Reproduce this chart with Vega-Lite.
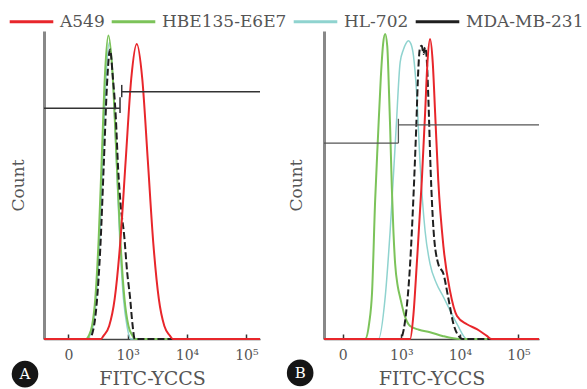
{
  "$schema": "https://vega.github.io/schema/vega-lite/v6.json",
  "padding": {"left": 8, "top": -2, "right": 0, "bottom": 0},
  "spacing": 22,
  "datasets": {
    "curves": [
      {"panel":"A","series":"HL-702","x":-0.41,"y":0},{"panel":"A","series":"HL-702","x":0.32,"y":0},{"panel":"A","series":"HL-702","x":0.36,"y":1},{"panel":"A","series":"HL-702","x":0.415,"y":4},{"panel":"A","series":"HL-702","x":0.47,"y":13},{"panel":"A","series":"HL-702","x":0.526,"y":31},{"panel":"A","series":"HL-702","x":0.58,"y":58},{"panel":"A","series":"HL-702","x":0.636,"y":85},{"panel":"A","series":"HL-702","x":0.691,"y":96.3},{"panel":"A","series":"HL-702","x":0.75,"y":85},{"panel":"A","series":"HL-702","x":0.81,"y":58},{"panel":"A","series":"HL-702","x":0.87,"y":31},{"panel":"A","series":"HL-702","x":0.93,"y":13},{"panel":"A","series":"HL-702","x":0.99,"y":4},{"panel":"A","series":"HL-702","x":1.05,"y":0},{"panel":"A","series":"HL-702","x":3.23,"y":0},
      {"panel":"A","series":"HBE135-E6E7","x":-0.41,"y":0},{"panel":"A","series":"HBE135-E6E7","x":0.3,"y":0},{"panel":"A","series":"HBE135-E6E7","x":0.345,"y":1.1},{"panel":"A","series":"HBE135-E6E7","x":0.4,"y":4.3},{"panel":"A","series":"HBE135-E6E7","x":0.455,"y":13.3},{"panel":"A","series":"HBE135-E6E7","x":0.51,"y":32},{"panel":"A","series":"HBE135-E6E7","x":0.565,"y":59.7},{"panel":"A","series":"HBE135-E6E7","x":0.62,"y":86.9},{"panel":"A","series":"HBE135-E6E7","x":0.675,"y":98.5},{"panel":"A","series":"HBE135-E6E7","x":0.7425,"y":86.9},{"panel":"A","series":"HBE135-E6E7","x":0.81,"y":59.7},{"panel":"A","series":"HBE135-E6E7","x":0.8775,"y":32},{"panel":"A","series":"HBE135-E6E7","x":0.945,"y":13.3},{"panel":"A","series":"HBE135-E6E7","x":1.0125,"y":4.3},{"panel":"A","series":"HBE135-E6E7","x":1.08,"y":1.1},{"panel":"A","series":"HBE135-E6E7","x":1.12,"y":0},{"panel":"A","series":"HBE135-E6E7","x":3.23,"y":0},
      {"panel":"A","series":"MDA-MB-231","x":-0.41,"y":0},{"panel":"A","series":"MDA-MB-231","x":0.35,"y":0},{"panel":"A","series":"MDA-MB-231","x":0.42,"y":3},{"panel":"A","series":"MDA-MB-231","x":0.48,"y":12},{"panel":"A","series":"MDA-MB-231","x":0.54,"y":30},{"panel":"A","series":"MDA-MB-231","x":0.6,"y":58},{"panel":"A","series":"MDA-MB-231","x":0.65,"y":82},{"panel":"A","series":"MDA-MB-231","x":0.703,"y":94},{"panel":"A","series":"MDA-MB-231","x":0.75,"y":85},{"panel":"A","series":"MDA-MB-231","x":0.8,"y":72},{"panel":"A","series":"MDA-MB-231","x":0.84,"y":55},{"panel":"A","series":"MDA-MB-231","x":0.88,"y":44},{"panel":"A","series":"MDA-MB-231","x":0.944,"y":33},{"panel":"A","series":"MDA-MB-231","x":0.99,"y":22},{"panel":"A","series":"MDA-MB-231","x":1.04,"y":13.5},{"panel":"A","series":"MDA-MB-231","x":1.08,"y":5},{"panel":"A","series":"MDA-MB-231","x":1.12,"y":0},{"panel":"A","series":"MDA-MB-231","x":3.23,"y":0},
      {"panel":"A","series":"A549","x":-0.41,"y":0},{"panel":"A","series":"A549","x":0.55,"y":0},{"panel":"A","series":"A549","x":0.595,"y":1.1},{"panel":"A","series":"A549","x":0.688,"y":4.2},{"panel":"A","series":"A549","x":0.781,"y":13},{"panel":"A","series":"A549","x":0.874,"y":31.1},{"panel":"A","series":"A549","x":0.967,"y":58.1},{"panel":"A","series":"A549","x":1.06,"y":84.5},{"panel":"A","series":"A549","x":1.153,"y":95.8},{"panel":"A","series":"A549","x":1.246,"y":84.5},{"panel":"A","series":"A549","x":1.339,"y":58.1},{"panel":"A","series":"A549","x":1.432,"y":31.1},{"panel":"A","series":"A549","x":1.525,"y":13},{"panel":"A","series":"A549","x":1.618,"y":4.2},{"panel":"A","series":"A549","x":1.711,"y":1.1},{"panel":"A","series":"A549","x":1.76,"y":0},{"panel":"A","series":"A549","x":3.23,"y":0},
      {"panel":"B","series":"HL-702","x":-0.32,"y":0},{"panel":"B","series":"HL-702","x":0.61,"y":0},{"panel":"B","series":"HL-702","x":0.724,"y":13.5},{"panel":"B","series":"HL-702","x":0.81,"y":35.3},{"panel":"B","series":"HL-702","x":0.91,"y":68},{"panel":"B","series":"HL-702","x":0.98,"y":89.8},{"panel":"B","series":"HL-702","x":1.036,"y":94},{"panel":"B","series":"HL-702","x":1.08,"y":96},{"panel":"B","series":"HL-702","x":1.12,"y":96.8},{"panel":"B","series":"HL-702","x":1.16,"y":96},{"panel":"B","series":"HL-702","x":1.207,"y":92},{"panel":"B","series":"HL-702","x":1.264,"y":79},{"panel":"B","series":"HL-702","x":1.32,"y":57},{"panel":"B","series":"HL-702","x":1.406,"y":35},{"panel":"B","series":"HL-702","x":1.49,"y":24.4},{"panel":"B","series":"HL-702","x":1.6,"y":18},{"panel":"B","series":"HL-702","x":1.72,"y":13.6},{"panel":"B","series":"HL-702","x":1.95,"y":4.9},{"panel":"B","series":"HL-702","x":2.12,"y":0},{"panel":"B","series":"HL-702","x":3.35,"y":0},
      {"panel":"B","series":"HBE135-E6E7","x":-0.32,"y":0},{"panel":"B","series":"HBE135-E6E7","x":0.382,"y":0},{"panel":"B","series":"HBE135-E6E7","x":0.45,"y":5},{"panel":"B","series":"HBE135-E6E7","x":0.5,"y":15},{"panel":"B","series":"HBE135-E6E7","x":0.553,"y":45},{"panel":"B","series":"HBE135-E6E7","x":0.6,"y":65},{"panel":"B","series":"HBE135-E6E7","x":0.65,"y":85},{"panel":"B","series":"HBE135-E6E7","x":0.69,"y":96},{"panel":"B","series":"HBE135-E6E7","x":0.724,"y":99},{"panel":"B","series":"HBE135-E6E7","x":0.76,"y":95},{"panel":"B","series":"HBE135-E6E7","x":0.79,"y":80},{"panel":"B","series":"HBE135-E6E7","x":0.81,"y":68},{"panel":"B","series":"HBE135-E6E7","x":0.838,"y":49},{"panel":"B","series":"HBE135-E6E7","x":0.865,"y":35},{"panel":"B","series":"HBE135-E6E7","x":0.894,"y":24.5},{"panel":"B","series":"HBE135-E6E7","x":0.94,"y":17},{"panel":"B","series":"HBE135-E6E7","x":0.98,"y":13.5},{"panel":"B","series":"HBE135-E6E7","x":1.05,"y":8},{"panel":"B","series":"HBE135-E6E7","x":1.15,"y":4.2},{"panel":"B","series":"HBE135-E6E7","x":1.3,"y":3},{"panel":"B","series":"HBE135-E6E7","x":1.49,"y":2.2},{"panel":"B","series":"HBE135-E6E7","x":1.7,"y":1},{"panel":"B","series":"HBE135-E6E7","x":2.0,"y":0},{"panel":"B","series":"HBE135-E6E7","x":3.35,"y":0},
      {"panel":"B","series":"MDA-MB-231","x":-0.32,"y":0},{"panel":"B","series":"MDA-MB-231","x":0.98,"y":0},{"panel":"B","series":"MDA-MB-231","x":1.065,"y":6},{"panel":"B","series":"MDA-MB-231","x":1.15,"y":24.4},{"panel":"B","series":"MDA-MB-231","x":1.207,"y":46.2},{"panel":"B","series":"MDA-MB-231","x":1.253,"y":68},{"panel":"B","series":"MDA-MB-231","x":1.29,"y":87.6},{"panel":"B","series":"MDA-MB-231","x":1.32,"y":94.7},{"panel":"B","series":"MDA-MB-231","x":1.35,"y":95.2},{"panel":"B","series":"MDA-MB-231","x":1.377,"y":92.5},{"panel":"B","series":"MDA-MB-231","x":1.406,"y":94.7},{"panel":"B","series":"MDA-MB-231","x":1.43,"y":92},{"panel":"B","series":"MDA-MB-231","x":1.46,"y":78.9},{"panel":"B","series":"MDA-MB-231","x":1.5,"y":54.9},{"panel":"B","series":"MDA-MB-231","x":1.55,"y":35.3},{"panel":"B","series":"MDA-MB-231","x":1.63,"y":24.4},{"panel":"B","series":"MDA-MB-231","x":1.72,"y":21.1},{"panel":"B","series":"MDA-MB-231","x":1.8,"y":13.5},{"panel":"B","series":"MDA-MB-231","x":1.89,"y":4.9},{"panel":"B","series":"MDA-MB-231","x":2.0,"y":0.5},{"panel":"B","series":"MDA-MB-231","x":2.05,"y":0},{"panel":"B","series":"MDA-MB-231","x":3.35,"y":0},
      {"panel":"B","series":"A549","x":-0.32,"y":0},{"panel":"B","series":"A549","x":1.15,"y":0},{"panel":"B","series":"A549","x":1.207,"y":8},{"panel":"B","series":"A549","x":1.264,"y":24.4},{"panel":"B","series":"A549","x":1.35,"y":51.6},{"panel":"B","series":"A549","x":1.406,"y":73.4},{"panel":"B","series":"A549","x":1.446,"y":89.8},{"panel":"B","series":"A549","x":1.49,"y":97.4},{"panel":"B","series":"A549","x":1.536,"y":89.8},{"panel":"B","series":"A549","x":1.577,"y":73.4},{"panel":"B","series":"A549","x":1.63,"y":51.6},{"panel":"B","series":"A549","x":1.72,"y":29.8},{"panel":"B","series":"A549","x":1.83,"y":15.7},{"panel":"B","series":"A549","x":1.95,"y":7.5},{"panel":"B","series":"A549","x":2.12,"y":4.8},{"panel":"B","series":"A549","x":2.29,"y":3.2},{"panel":"B","series":"A549","x":2.46,"y":1},{"panel":"B","series":"A549","x":2.54,"y":0},{"panel":"B","series":"A549","x":3.35,"y":0}
    ],
    "gates": [
      {"panel":"A","x":-0.41,"x2":0.871,"y":74.9,"y2":74.9},
      {"panel":"A","x":0.871,"x2":0.871,"y":73.4,"y2":78.5},
      {"panel":"A","x":0.9,"x2":3.23,"y":80.3,"y2":80.3},
      {"panel":"A","x":0.9,"x2":0.9,"y":78.5,"y2":82.5},
      {"panel":"B","x":-0.32,"x2":0.95,"y":63.6,"y2":63.6},
      {"panel":"B","x":0.95,"x2":0.95,"y":63.6,"y2":71.5},
      {"panel":"B","x":0.95,"x2":3.35,"y":69.5,"y2":69.5}
    ],
    "badges": [
      {"panel":"A","x":-0.73,"y":-11.4,"label":"A"},
      {"panel":"B","x":-0.727,"y":-11.0,"label":"B"}
    ]
  },
  "config": {
    "view": {"stroke": null},
    "axis": {
      "grid": false,
      "titleFont": "DejaVu Serif",
      "labelFont": "DejaVu Serif",
      "titleFontWeight": "normal",
      "titleColor": "#555555",
      "labelColor": "#555555"
    },
    "legend": {
      "orient": "none",
      "legendX": -36,
      "legendY": -33,
      "direction": "horizontal",
      "symbolType": "stroke",
      "symbolSize": 1900,
      "symbolStrokeWidth": 3,
      "labelFont": "DejaVu Serif",
      "labelFontSize": 17,
      "labelColor": "#555555",
      "labelOffset": 5,
      "columnPadding": 0,
      "padding": 0
    }
  },
  "hconcat": [
    {
      "width": 216,
      "height": 308,
      "encoding": {
        "x": {"field": "x", "type": "quantitative",
              "scale": {"domain": [-0.41, 3.23], "nice": false, "zero": false},
              "axis": {"values": [0, 1, 2, 3], "labelExpr": "datum.value == 0 ? '0' : datum.value == 1 ? '10³' : datum.value == 2 ? '10⁴' : '10⁵'",
                       "title": "FITC-YCCS", "titleFontSize": 19, "titlePadding": 7, "labelFontSize": 14,
                       "tickSize": -5, "tickColor": "#333333", "tickWidth": 1.5, "labelPadding": 14,
                       "domainColor": "#444444", "domainWidth": 1.5, "labelFlush": false}},
        "y": {"field": "y", "type": "quantitative",
              "scale": {"domain": [0, 100], "nice": false, "zero": false},
              "axis": {"title": "Count", "titleFontSize": 17, "ticks": false, "labels": false, "titlePadding": 17,
                       "domainColor": "#888888", "domainWidth": 3}}
      },
      "layer": [
        {"data": {"name": "curves"}, "transform": [{"filter": "datum.panel == 'A' && datum.series == 'HL-702'"}],
         "mark": {"type": "line", "strokeWidth": 1.5, "interpolate": "monotone"},
         "encoding": {"color": {"field": "series", "type": "nominal", "scale": {"domain": ["A549", "HBE135-E6E7", "HL-702", "MDA-MB-231"], "range": ["#e8262b", "#7cc35a", "#8fd3cf", "#1f1f1f"]}, "legend": {"title": null}}}},
        {"data": {"name": "curves"}, "transform": [{"filter": "datum.panel == 'A' && datum.series == 'HBE135-E6E7'"}],
         "mark": {"type": "line", "strokeWidth": 2, "interpolate": "monotone"},
         "encoding": {"color": {"field": "series", "type": "nominal", "legend": {"title": null}}}},
        {"data": {"name": "curves"}, "transform": [{"filter": "datum.panel == 'A' && datum.series == 'MDA-MB-231'"}],
         "mark": {"type": "line", "strokeWidth": 2, "interpolate": "monotone", "strokeDash": [7, 3]},
         "encoding": {"color": {"field": "series", "type": "nominal", "legend": {"title": null}}}},
        {"data": {"name": "curves"}, "transform": [{"filter": "datum.panel == 'A' && datum.series == 'A549'"}],
         "mark": {"type": "line", "strokeWidth": 2, "interpolate": "monotone"},
         "encoding": {"color": {"field": "series", "type": "nominal", "legend": {"title": null}}}},
        {"data": {"name": "gates"}, "transform": [{"filter": "datum.panel == 'A'"}],
         "mark": {"type": "rule", "color": "#333333", "strokeWidth": 1.5},
         "encoding": {"x2": {"field": "x2"}, "y2": {"field": "y2"}}},
        {"data": {"name": "badges"}, "transform": [{"filter": "datum.panel == 'A'"}],
         "mark": {"type": "point", "shape": "circle", "filled": true, "size": 707, "color": "#151515", "opacity": 1},
         "encoding": {}},
        {"data": {"name": "badges"}, "transform": [{"filter": "datum.panel == 'A'"}],
         "mark": {"type": "text", "color": "#ffffff", "font": "DejaVu Serif", "fontSize": 15, "baseline": "middle", "align": "center"},
         "encoding": {"text": {"field": "label"}}}
      ]
    },
    {
      "width": 215,
      "height": 308,
      "encoding": {
        "x": {"field": "x", "type": "quantitative",
              "scale": {"domain": [-0.32, 3.35], "nice": false, "zero": false},
              "axis": {"values": [0, 1, 2, 3], "labelExpr": "datum.value == 0 ? '0' : datum.value == 1 ? '10³' : datum.value == 2 ? '10⁴' : '10⁵'",
                       "title": "FITC-YCCS", "titleFontSize": 19, "titlePadding": 7, "labelFontSize": 14,
                       "tickSize": -5, "tickColor": "#333333", "tickWidth": 1.5, "labelPadding": 14,
                       "domainColor": "#444444", "domainWidth": 1.5, "labelFlush": false}},
        "y": {"field": "y", "type": "quantitative",
              "scale": {"domain": [0, 100], "nice": false, "zero": false},
              "axis": {"title": "Count", "titleFontSize": 17, "ticks": false, "labels": false, "titlePadding": 19,
                       "domainColor": "#888888", "domainWidth": 3}}
      },
      "layer": [
        {"data": {"name": "curves"}, "transform": [{"filter": "datum.panel == 'B' && datum.series == 'HL-702'"}],
         "mark": {"type": "line", "strokeWidth": 1.5, "interpolate": "monotone"},
         "encoding": {"color": {"field": "series", "type": "nominal", "legend": {"title": null}}}},
        {"data": {"name": "curves"}, "transform": [{"filter": "datum.panel == 'B' && datum.series == 'HBE135-E6E7'"}],
         "mark": {"type": "line", "strokeWidth": 2, "interpolate": "monotone"},
         "encoding": {"color": {"field": "series", "type": "nominal", "legend": {"title": null}}}},
        {"data": {"name": "curves"}, "transform": [{"filter": "datum.panel == 'B' && datum.series == 'MDA-MB-231'"}],
         "mark": {"type": "line", "strokeWidth": 2, "interpolate": "monotone", "strokeDash": [7, 3]},
         "encoding": {"color": {"field": "series", "type": "nominal", "legend": {"title": null}}}},
        {"data": {"name": "curves"}, "transform": [{"filter": "datum.panel == 'B' && datum.series == 'A549'"}],
         "mark": {"type": "line", "strokeWidth": 2, "interpolate": "monotone"},
         "encoding": {"color": {"field": "series", "type": "nominal", "legend": {"title": null}}}},
        {"data": {"name": "gates"}, "transform": [{"filter": "datum.panel == 'B'"}],
         "mark": {"type": "rule", "color": "#555555", "strokeWidth": 1.3},
         "encoding": {"x2": {"field": "x2"}, "y2": {"field": "y2"}}},
        {"data": {"name": "badges"}, "transform": [{"filter": "datum.panel == 'B'"}],
         "mark": {"type": "point", "shape": "circle", "filled": true, "size": 707, "color": "#151515", "opacity": 1},
         "encoding": {}},
        {"data": {"name": "badges"}, "transform": [{"filter": "datum.panel == 'B'"}],
         "mark": {"type": "text", "color": "#ffffff", "font": "DejaVu Serif", "fontSize": 15, "baseline": "middle", "align": "center"},
         "encoding": {"text": {"field": "label"}}}
      ]
    }
  ]
}
